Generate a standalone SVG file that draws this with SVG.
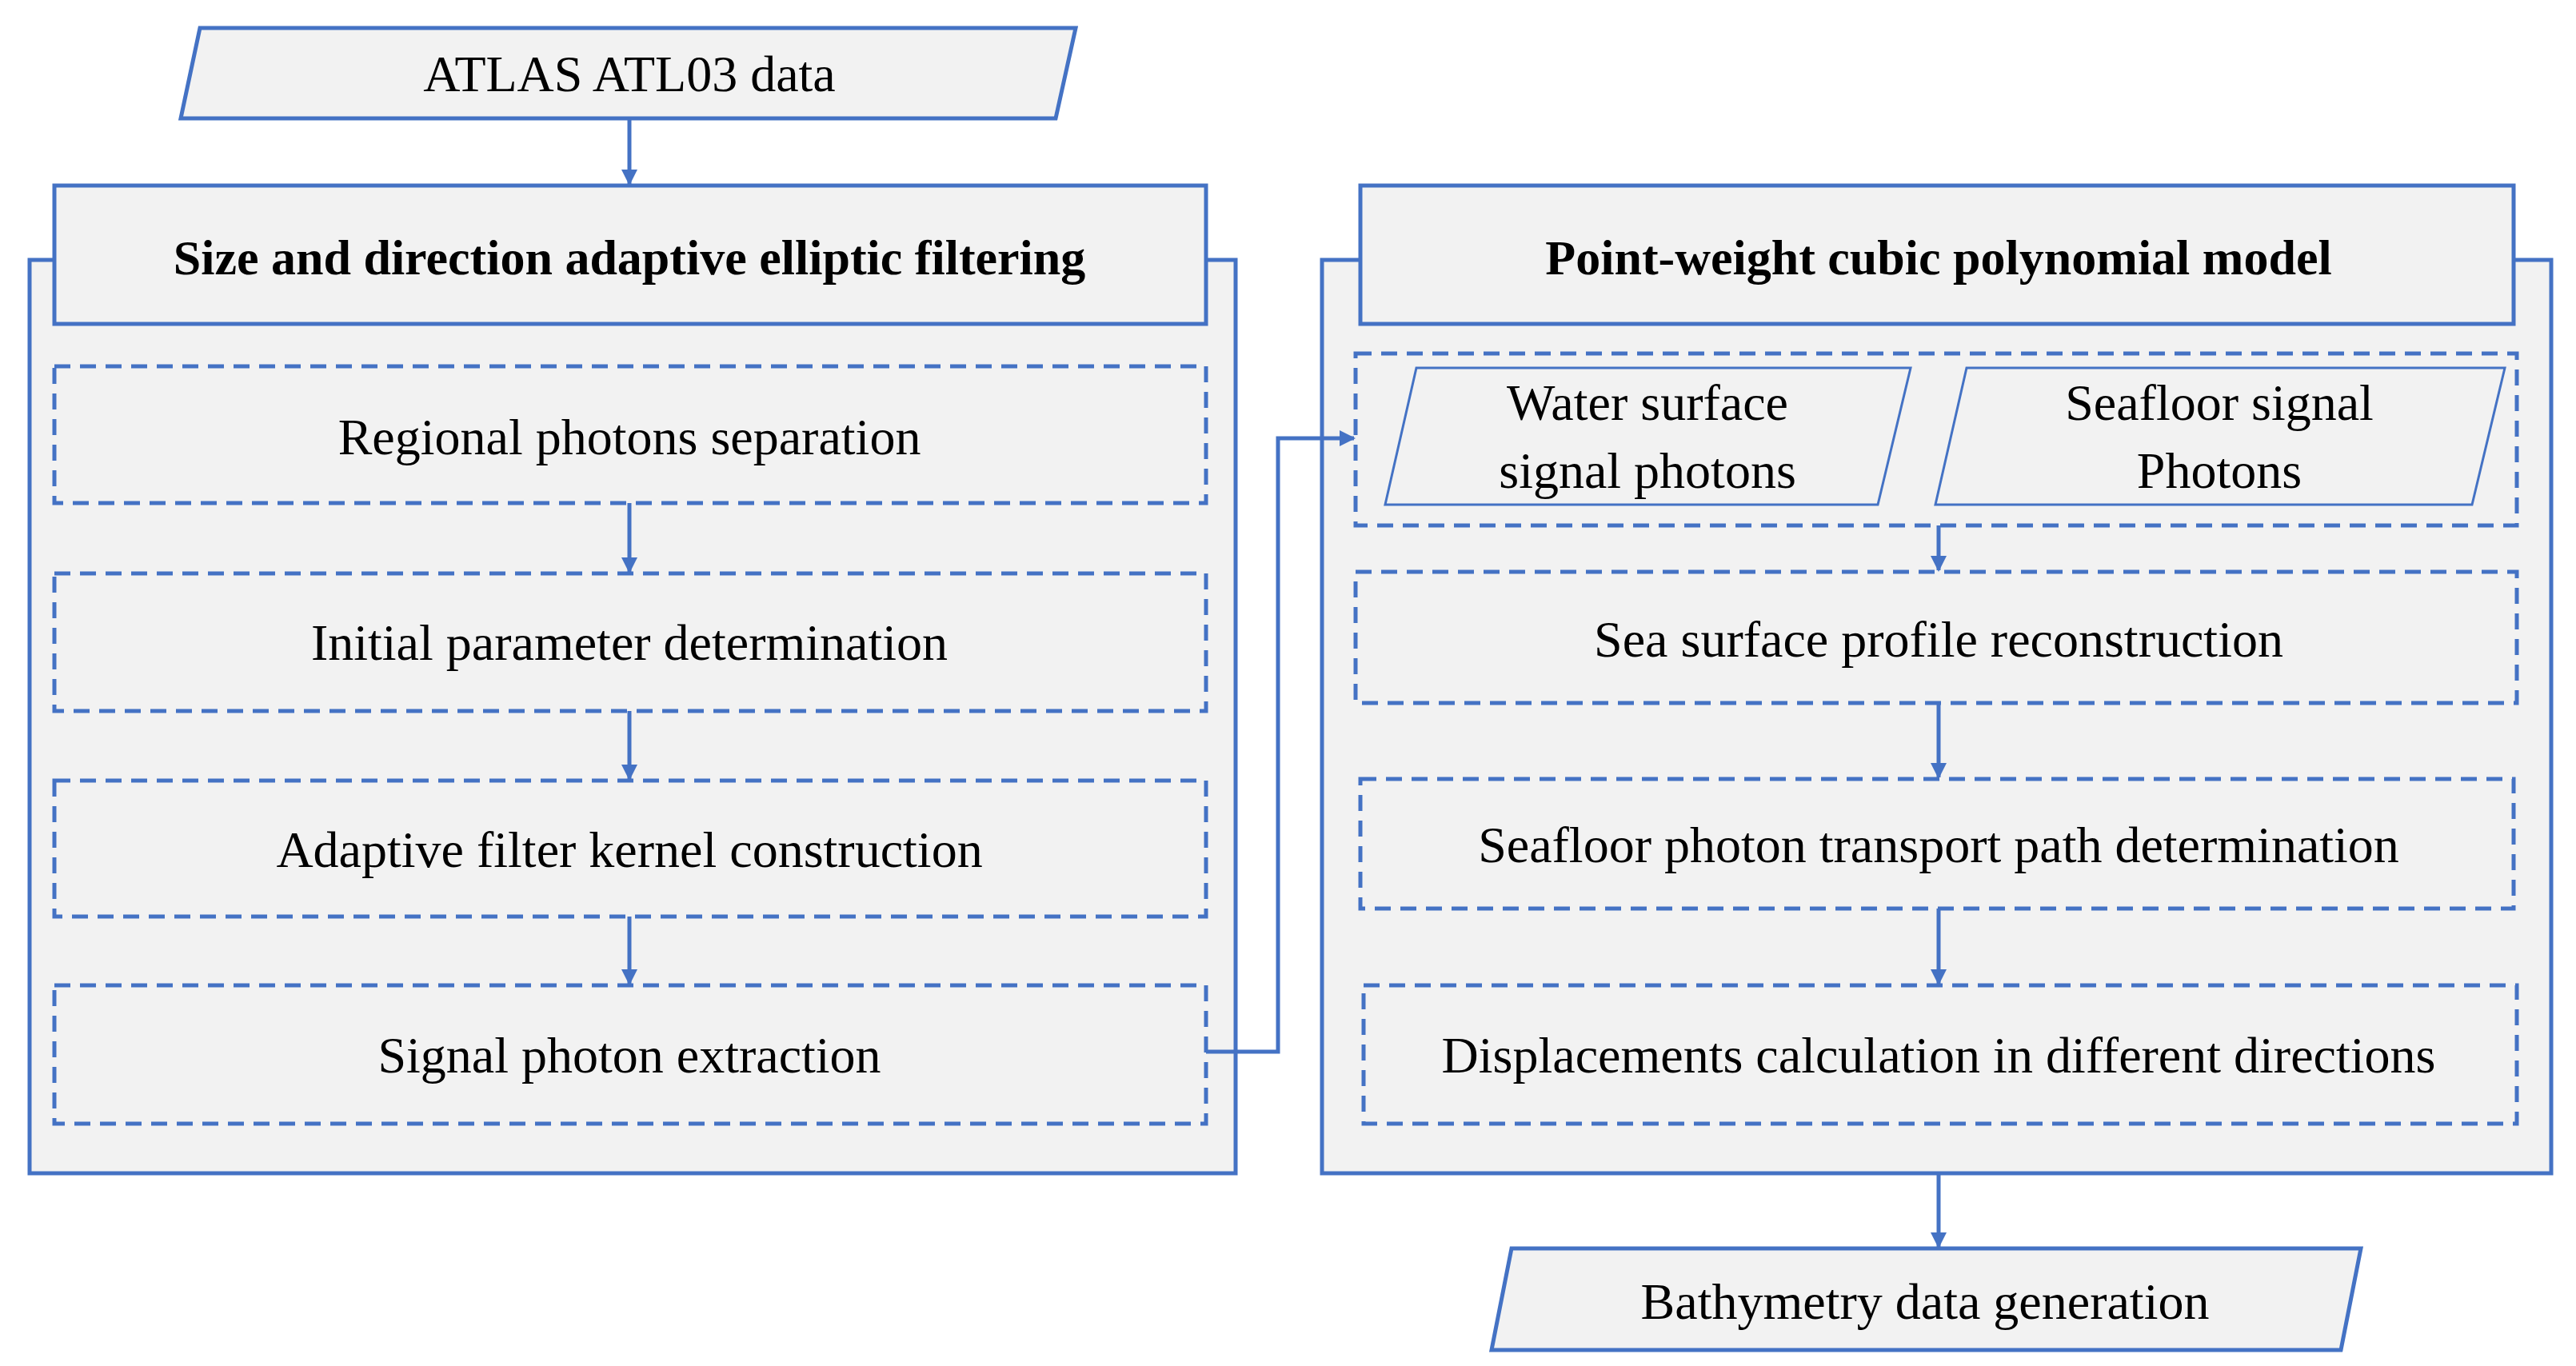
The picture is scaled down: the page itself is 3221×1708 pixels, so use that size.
<svg xmlns="http://www.w3.org/2000/svg" width="3221" height="1708" viewBox="0 0 3221 1708">
<style>
.s{fill:#f2f2f2;stroke:#4472c4;stroke-width:5}
.d{fill:#f2f2f2;stroke:#4472c4;stroke-width:5;stroke-dasharray:20 12}
.t{font-family:"Liberation Serif",serif;font-size:64px;fill:#000;text-anchor:middle}
.b{font-weight:bold;font-size:62px}
.c{fill:none;stroke:#4472c4;stroke-width:5}
</style>
<defs><marker id="a" viewBox="0 0 10 10" refX="9" refY="5" markerWidth="4" markerHeight="4" orient="auto" markerUnits="strokeWidth"><path d="M0,0L10,5L0,10z" fill="#4472c4"/></marker></defs>
<rect width="3221" height="1708" fill="#fff"/>
<g id="input"><polygon class="s" points="250,35 1345,35 1320,148 226,148"/><text class="t" x="787" y="114">ATLAS ATL03 data</text></g>
<g id="left-panel"><rect class="s" x="37" y="325" width="1508" height="1142"/>
<rect class="s" x="68" y="232" width="1440" height="173"/><text class="t b" x="787" y="343">Size and direction adaptive elliptic filtering</text></g>
<g id="l1"><rect class="d" x="68" y="458" width="1440" height="171"/><text class="t" x="787" y="568">Regional photons separation</text></g>
<g id="l2"><rect class="d" x="68" y="717" width="1440" height="172"/><text class="t" x="787" y="825">Initial parameter determination</text></g>
<g id="l3"><rect class="d" x="68" y="976" width="1440" height="170"/><text class="t" x="787" y="1084">Adaptive filter kernel construction</text></g>
<g id="l4"><rect class="d" x="68" y="1232" width="1440" height="173"/><text class="t" x="787" y="1341">Signal photon extraction</text></g>
<g id="right-panel"><rect class="s" x="1653" y="325" width="1537" height="1142"/>
<rect class="s" x="1701" y="232" width="1442" height="173"/><text class="t b" x="2424" y="343">Point-weight cubic polynomial model</text></g>
<g id="r0"><rect class="d" x="1695" y="442" width="1452" height="215"/>
<polygon class="s" points="1771,460 2389,460 2348,631 1732,631" style="stroke-width:3"/>
<text class="t" x="2060" y="525">Water surface</text><text class="t" x="2060" y="610">signal photons</text>
<polygon class="s" points="2459,460 3132,460 3091,631 2420,631" style="stroke-width:3"/>
<text class="t" x="2775" y="525">Seafloor signal</text><text class="t" x="2775" y="610">Photons</text></g>
<g id="r1"><rect class="d" x="1695" y="715" width="1452" height="164"/><text class="t" x="2424" y="821">Sea surface profile reconstruction</text></g>
<g id="r2"><rect class="d" x="1701" y="974" width="1442" height="162"/><text class="t" x="2424" y="1078">Seafloor photon transport path determination</text></g>
<g id="r3"><rect class="d" x="1705" y="1232" width="1442" height="173"/><text class="t" x="2424" y="1341">Displacements calculation in different directions</text></g>
<g id="output"><polygon class="s" points="1890,1561 2952,1561 2927,1688 1865,1688"/><text class="t" x="2407" y="1649">Bathymetry data generation</text></g>
<g id="connectors">
<path class="c" marker-end="url(#a)" d="M787,148V230"/>
<path class="c" marker-end="url(#a)" d="M787,629V715"/>
<path class="c" marker-end="url(#a)" d="M787,889V974"/>
<path class="c" marker-end="url(#a)" d="M787,1146V1230"/>
<path class="c" marker-end="url(#a)" d="M1508,1315H1598V548H1693"/>
<path class="c" marker-end="url(#a)" d="M2424,657V713"/>
<path class="c" marker-end="url(#a)" d="M2424,879V972"/>
<path class="c" marker-end="url(#a)" d="M2424,1136V1230"/>
<path class="c" marker-end="url(#a)" d="M2424,1467V1559"/>
</g>
</svg>
